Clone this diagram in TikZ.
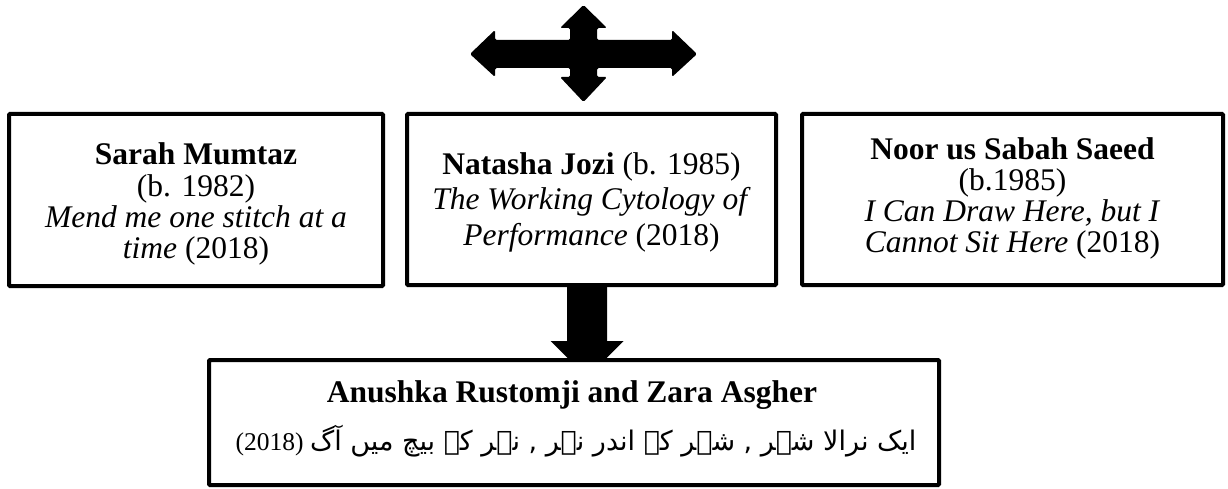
\documentclass[tikz,border=0pt]{standalone}
\usepackage{fontspec}
\setmainfont{Liberation Serif}
\newfontfamily\urdufont[Script=Arabic]{DejaVu Sans}
\TeXXeTstate=1
\usetikzlibrary{calc,backgrounds}
\begin{document}
\begin{tikzpicture}[x=1pt,y=-1pt,
  box/.style={draw=black, line width=4pt, fill=white, rounded corners=1pt,
    align=center, inner sep=0pt},
  txt/.style={font=\fontsize{31.5}{31}\selectfont},
  solidarrow/.style={fill=black, draw=none}]
\useasboundingbox (0,0) rectangle (1228,489);

\node[box, minimum width=374pt, minimum height=172pt] (left) at (196,200) {};
\node[txt, align=center, inner sep=0pt, anchor=base] (lefttext) at (196,258)
  {\textbf{Sarah Mumtaz}\\(b. 1982)\\\textit{Mend me one stitch at a}\\\textit{time} (2018)};
\node[box, minimum width=369pt, minimum height=171pt] (mid) at (591.5,199.5) {};
\node[align=center, inner sep=0pt, anchor=base, font=\fontsize{31.5}{35.5}\selectfont] (midtext) at (591.5,245)
  {\textbf{Natasha Jozi} (b. 1985)\\\textit{The Working Cytology of}\\\textit{Performance} (2018)};
\node[box, minimum width=421pt, minimum height=171pt] (right) at (1012.5,199.5) {};
\node[txt, align=center, inner sep=0pt, anchor=base] (righttext) at (1012.5,252)
  {\textbf{Noor us Sabah Saeed}\\(b.1985)\\\textit{I Can Draw Here, but I}\\\textit{Cannot Sit Here} (2018)};
\node[box, minimum width=730pt, minimum height=125pt] (bottom) at (574,422.5) {};
\node[font=\fontsize{31.5}{31}\selectfont\bfseries, anchor=base, inner sep=0pt] (btitle) at (572,402)
  {Anushka Rustomji and Zara Asgher};
\node[anchor=base, inner sep=0pt] (bline) at (576,450)
  {\fontsize{25.5}{30}\selectfont (2018) {\urdufont\fontsize{27}{30}\selectfont\beginR ایک نرالا شہر , شہر کے اندر نہر , نہر کے بیچ میں آگ\endR}};

\begin{scope}[on background layer]
  \coordinate (ds) at ($(mid.south)+(-4.5,0)$);
  \coordinate (dn) at (bottom.north -| ds);
  \fill[solidarrow] ($(ds)+(-20,0)$) -- ($(ds)+(20,0)$) -- ($(dn)+(20,-17)$)
    -- ($(dn)+(36.5,-17)$) -- ($(dn)+(0,19.5)$) -- ($(dn)+(-36.5,-17)$)
    -- ($(dn)+(-20,-17)$) -- cycle;
\end{scope}

\coordinate (cross) at (583.5,54);
\begin{scope}[shift={(cross)}]
  \fill[solidarrow, rounded corners=1.5pt] (0,-49) -- (23.5,-26) -- (13.5,-26) -- (13.5,-14)
    -- (88.5,-14) -- (88.5,-24) -- (113.5,0) -- (88.5,23) -- (88.5,14) -- (13.5,14)
    -- (13.5,23) -- (23.5,23) -- (0,48) -- (-23.5,23) -- (-13.5,23) -- (-13.5,14)
    -- (-88.5,14) -- (-88.5,23) -- (-113.5,0) -- (-88.5,-24) -- (-88.5,-14)
    -- (-13.5,-14) -- (-13.5,-26) -- (-23.5,-26) -- cycle;
\end{scope}
\end{tikzpicture}
\end{document}
